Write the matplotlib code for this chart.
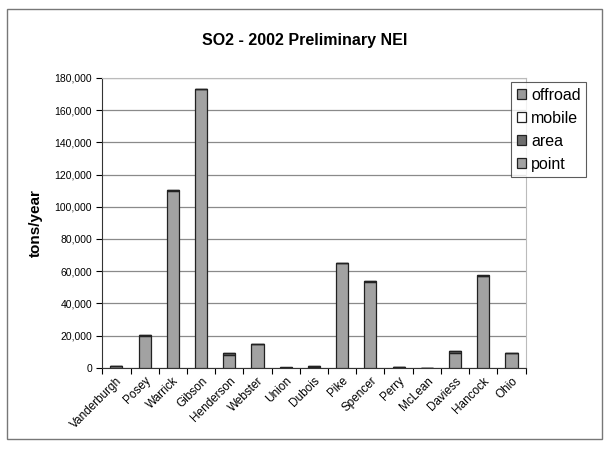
import matplotlib.pyplot as plt
import numpy as np
from matplotlib.ticker import FuncFormatter
from matplotlib.patches import Rectangle

plt.rcParams['font.family'] = ['Liberation Sans', 'DejaVu Sans']

counties = ['Vanderburgh', 'Posey', 'Warrick', 'Gibson', 'Henderson', 'Webster',
            'Union', 'Dubois', 'Pike', 'Spencer', 'Perry', 'McLean', 'Daviess',
            'Hancock', 'Ohio']
point = [1000, 20000, 110000, 173000, 7800, 14800, 100, 700, 65000, 53500,
         500, 50, 9000, 57000, 9000]
area = [300, 300, 300, 300, 1500, 200, 100, 200, 200, 200, 200, 50, 1500, 300, 200]
mobile = [100, 50, 50, 50, 100, 50, 20, 50, 50, 50, 30, 20, 100, 50, 20]
offroad = [50, 50, 50, 50, 50, 20, 10, 20, 20, 20, 20, 10, 50, 20, 10]

series = [('point', point, '#a2a2a2'),
          ('area', area, '#6e6e6e'),
          ('mobile', mobile, '#ffffff'),
          ('offroad', offroad, '#9a9a9a')]

fig = plt.figure(figsize=(6.09, 4.53), dpi=100)
fig.patches.append(Rectangle((0.012, 0.03), 0.976, 0.95, transform=fig.transFigure,
                             fill=False, edgecolor='#777777', lw=1.0))
ax = fig.add_axes([0.168, 0.188, 0.695, 0.64])

x = np.arange(len(counties))
bottom = np.zeros(len(counties))
handles = {}
for name, vals, col in series:
    b = ax.bar(x, vals, 0.43, bottom=bottom, color=col, edgecolor='#222222',
               linewidth=0.9, zorder=3, label=name)
    handles[name] = b
    bottom += np.array(vals)

ax.set_xlim(-0.5, len(counties) - 0.5)
ax.set_ylim(0, 180000)
ax.set_yticks(np.arange(0, 180001, 20000))
ax.yaxis.set_major_formatter(FuncFormatter(lambda v, p: f'{int(v):,}'))
ax.yaxis.grid(True, color='#8a8a8a', lw=0.9, zorder=0)
ax.set_xticks(np.arange(-0.5, len(counties)), minor=False)
ax.set_xticklabels([])
ax.set_xticks(x, minor=True)
ax.set_xticklabels(counties, minor=True, rotation=45, ha='right',
                   rotation_mode='anchor', fontsize=8.5)
ax.tick_params(axis='x', which='minor', length=0, pad=5)
ax.tick_params(axis='x', which='major', length=4, direction='out')
ax.tick_params(axis='y', labelsize=7.5, length=4)
for s in ['top', 'right']:
    ax.spines[s].set_color('#bbbbbb')
for s in ['left', 'bottom']:
    ax.spines[s].set_color('#333333')

ax.set_ylabel('tons/year', fontsize=11, fontweight='bold', labelpad=8)
fig.text(0.5, 0.9, 'SO2 - 2002 Preliminary NEI', ha='center', fontsize=11.5,
         fontweight='bold')

order = ['offroad', 'mobile', 'area', 'point']
leg = fig.legend([handles[n] for n in order], order, loc='upper left',
                 bbox_to_anchor=(0.839, 0.819), fontsize=11.5, frameon=True,
                 fancybox=False, edgecolor='#333333', handlelength=0.6,
                 handleheight=0.6, handletextpad=0.3, borderpad=0.35,
                 labelspacing=0.5, borderaxespad=0)
leg.get_frame().set_linewidth(0.8)

fig.savefig('out.png', dpi=100)
